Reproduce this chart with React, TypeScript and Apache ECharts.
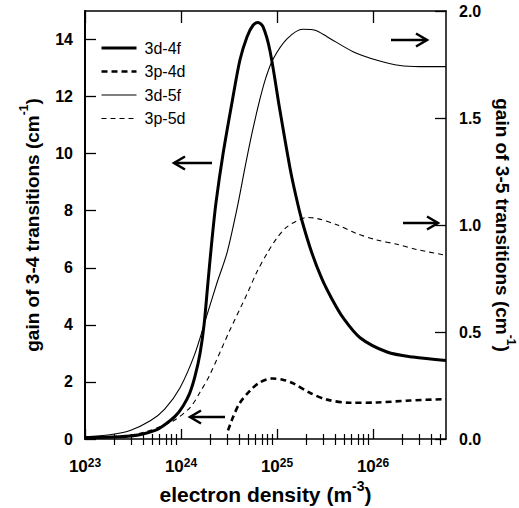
import React, { useEffect, useRef } from "react";
import * as echarts from "echarts";

// x values are log10 of electron density (m^-3)
const x3d4f = [23.0, 23.36, 23.57, 23.73, 23.83, 23.94, 24.02, 24.09, 24.146, 24.198, 24.24, 24.281, 24.323, 24.365, 24.438, 24.542, 24.615, 24.688, 24.75, 24.802, 24.854, 24.927, 25.031, 25.135, 25.198, 25.26, 25.365, 25.469, 25.573, 25.688, 25.865, 26.146, 26.417, 26.76];
const y3d4f = [0.05, 0.08, 0.15, 0.3, 0.5, 0.8, 1.15, 1.6, 2.2, 3.0, 4.0, 5.5, 7.0, 8.3, 10.0, 12.0, 13.3, 14.1, 14.5, 14.6, 14.45, 13.6, 11.5, 9.5, 8.5, 7.65, 6.5, 5.6, 4.9, 4.25, 3.55, 3.05, 2.87, 2.75];

const x3p4d = [24.49, 24.54, 24.61, 24.72, 24.82, 24.95, 25.06, 25.17, 25.34, 25.52, 25.76, 26.04, 26.39, 26.76];
const y3p4d = [0.3, 0.75, 1.25, 1.7, 1.98, 2.12, 2.08, 1.95, 1.62, 1.38, 1.27, 1.28, 1.35, 1.4];

const x3d5f = [23.0, 23.26, 23.47, 23.68, 23.83, 23.99, 24.146, 24.271, 24.375, 24.479, 24.594, 24.667, 24.74, 24.823, 24.885, 24.958, 25.104, 25.271, 25.396, 25.521, 25.792, 26.042, 26.281, 26.49, 26.76];
const y3d5f = [0.01, 0.02, 0.04, 0.085, 0.14, 0.24, 0.4, 0.58, 0.73, 0.87, 1.1, 1.27, 1.43, 1.59, 1.69, 1.775, 1.87, 1.915, 1.91, 1.88, 1.81, 1.77, 1.745, 1.74, 1.74];

const x3p5d = [23.0, 23.4, 23.6, 23.8, 23.94, 24.1, 24.2, 24.3, 24.5, 24.69, 24.79, 24.9, 25.0, 25.1, 25.21, 25.31, 25.42, 25.63, 25.83, 26.04, 26.25, 26.46, 26.74];
const y3p5d = [0.005, 0.015, 0.03, 0.06, 0.09, 0.15, 0.22, 0.3, 0.5, 0.68, 0.78, 0.87, 0.94, 0.99, 1.02, 1.035, 1.03, 1.0, 0.96, 0.93, 0.91, 0.885, 0.86];

const seriesNames = ["3d-4f", "3p-4d", "3d-5f", "3p-5d"];

const xMajor = [23, 24, 25, 26];
const xMinor: number[] = [];
for (let d = 23; d <= 26; d++) {
  for (let k = 2; k <= 9; k++) {
    const v = d + Math.log10(k);
    if (v <= 26.76) xMinor.push(v);
  }
}
const leftTicks = [0, 2, 4, 6, 8, 10, 12, 14];
const rightTicks = [0, 0.5, 1.0, 1.5, 2.0];

const zip = (xs: number[], ys: number[]) => xs.map((x, i) => [x, ys[i]]);

const FONT = "Liberation Sans, Arial, Helvetica, sans-serif";

export default function App() {
  const ref = useRef<HTMLDivElement>(null);
  useEffect(() => {
    document.body.style.margin = "0";
    const chart = echarts.init(ref.current!, undefined, { renderer: "svg" });
    const xBase = {
      type: "value" as const,
      min: 23,
      max: 26.76,
      gridIndex: 0,
      splitLine: { show: false },
    };
    const arrowStyle = { stroke: "#000", lineWidth: 2.5, fill: "none" };
    const arrow = (x1: number, x2: number, y: number, dir: number) => {
      const hx = dir < 0 ? x1 : x2;
      return [
        { type: "line", shape: { x1, y1: y, x2, y2: y }, style: arrowStyle },
        {
          type: "polyline",
          shape: { points: [[hx - dir * 11, y - 6.5], [hx, y], [hx - dir * 11, y + 6.5]] },
          style: arrowStyle,
        },
      ];
    };
    const nameRich = {
      n: { fontSize: 19, fontWeight: "bold", color: "#000", fontFamily: FONT, lineHeight: 24, verticalAlign: "bottom" },
      s: { fontSize: 12, fontWeight: "bold", color: "#000", fontFamily: FONT, lineHeight: 13, verticalAlign: "top" },
    };
    const styles = [
      { color: "#000", width: 3, type: "solid" },
      { color: "#000", width: 2.6, type: [6, 4] },
      { color: "#000", width: 1.1, type: "solid" },
      { color: "#000", width: 1.1, type: [5, 4] },
    ];
    const lineCommon = { type: "line", xAxisIndex: 0, symbol: "none", showSymbol: false, smooth: 0.3 };
    chart.setOption({
      animation: false,
      textStyle: { fontFamily: FONT },
      grid: { left: 85, right: 73, top: 11, bottom: 69, containLabel: false, outerBoundsMode: "none" },
      legend: {
        orient: "vertical",
        left: 95,
        top: 35,
        itemWidth: 35,
        itemHeight: 14,
        itemGap: 7.5,
        itemStyle: { opacity: 0 },
        textStyle: { fontSize: 16, color: "#000", fontFamily: FONT, padding: [0, 0, 0, 3] },
        data: seriesNames.map((n, i) => ({ name: n, lineStyle: styles[i], itemStyle: { opacity: 0 } })),
      },
      xAxis: [
        {
          ...xBase,
          position: "bottom",
          name: "{n|electron density (m}{s|-3}{n|)}",
          nameLocation: "middle",
          nameGap: 40,
          nameMoveOverlap: false,
          nameTextStyle: {
            rich: {
              n: { ...nameRich.n, fontSize: 21, lineHeight: 26 },
              s: { ...nameRich.s, fontSize: 14, lineHeight: 14 },
            },
          },
          axisLine: { show: true, onZero: false, lineStyle: { color: "#000", width: 1.5 } },
          axisTick: { show: true, inside: true, length: 10, customValues: xMajor, lineStyle: { color: "#000", width: 1.3 } },
          axisLabel: {
            show: true,
            customValues: xMajor,
            margin: 18,
            formatter: (v: number) => `{b|10}{s|${Math.round(v)}}`,
            rich: {
              b: { fontSize: 17, fontWeight: "bold", color: "#000", fontFamily: FONT, lineHeight: 18, verticalAlign: "bottom" },
              s: { fontSize: 12, fontWeight: "bold", color: "#000", fontFamily: FONT, lineHeight: 10, verticalAlign: "top" },
            },
          },
        },
        {
          ...xBase,
          position: "bottom",
          axisLine: { show: false },
          axisTick: { show: true, inside: true, length: 5, customValues: xMinor, lineStyle: { color: "#000", width: 1.2 } },
          axisLabel: { show: false },
        },
        {
          ...xBase,
          position: "top",
          axisLine: { show: true, onZero: false, lineStyle: { color: "#000", width: 1.5 } },
          axisTick: { show: true, inside: true, length: 12, customValues: xMajor, lineStyle: { color: "#000", width: 1.3 } },
          axisLabel: { show: false },
        },
        {
          ...xBase,
          position: "top",
          axisLine: { show: false },
          axisTick: { show: true, inside: true, length: 6, customValues: xMinor, lineStyle: { color: "#000", width: 1.2 } },
          axisLabel: { show: false },
        },
      ],
      yAxis: [
        {
          type: "value",
          min: 0,
          max: 15,
          position: "left",
          splitLine: { show: false },
          name: "{n|gain of 3-4 transitions (cm}{s|-1}{n|)}",
          nameLocation: "middle",
          nameRotate: 90,
          nameGap: 43,
          nameMoveOverlap: false,
          nameTextStyle: { rich: nameRich },
          axisLine: { show: true, onZero: false, lineStyle: { color: "#000", width: 2 } },
          axisTick: { show: true, inside: true, length: 11, customValues: leftTicks, lineStyle: { color: "#000", width: 1.3 } },
          axisLabel: { customValues: leftTicks, margin: 12, fontSize: 16, fontWeight: "bold", color: "#000", fontFamily: FONT },
        },
        {
          type: "value",
          min: 0,
          max: 2,
          position: "right",
          splitLine: { show: false },
          name: "{n|gain of 3-5 transitions (cm}{s|-1}{n|)}",
          nameLocation: "middle",
          nameRotate: -90,
          nameGap: 47,
          nameMoveOverlap: false,
          nameTextStyle: { rich: nameRich },
          axisLine: { show: true, onZero: false, lineStyle: { color: "#000", width: 1.5 } },
          axisTick: { show: true, inside: true, length: 11, customValues: rightTicks, lineStyle: { color: "#000", width: 1.3 } },
          axisLabel: {
            customValues: rightTicks,
            margin: 13,
            fontSize: 16,
            fontWeight: "bold",
            color: "#000",
            fontFamily: FONT,
            formatter: (v: number) => v.toFixed(1),
          },
        },
      ],
      series: [
        { ...lineCommon, name: seriesNames[0], yAxisIndex: 0, data: zip(x3d4f, y3d4f), lineStyle: styles[0], itemStyle: { color: "#000" } },
        { ...lineCommon, name: seriesNames[1], yAxisIndex: 0, data: zip(x3p4d, y3p4d), lineStyle: styles[1], itemStyle: { color: "#000" } },
        { ...lineCommon, name: seriesNames[2], yAxisIndex: 1, data: zip(x3d5f, y3d5f), lineStyle: styles[2], itemStyle: { color: "#000" } },
        { ...lineCommon, name: seriesNames[3], yAxisIndex: 1, data: zip(x3p5d, y3p5d), lineStyle: styles[3], itemStyle: { color: "#000" } },
      ],
      graphic: [
        ...arrow(174, 212, 163, -1),
        ...arrow(190, 225, 417, -1),
        ...arrow(391, 427, 40, 1),
        ...arrow(403, 438, 223, 1),
      ],
    });
    return () => chart.dispose();
  }, []);
  return <div ref={ref} style={{ width: 519, height: 508 }} />;
}
